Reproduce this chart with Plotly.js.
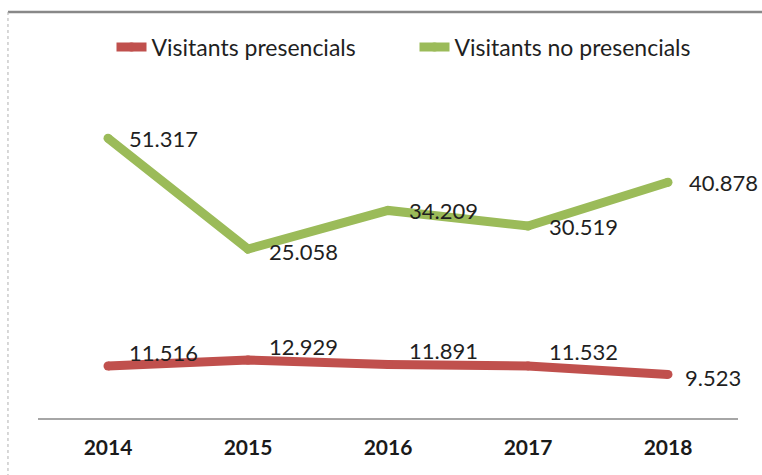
<!DOCTYPE html>
<html>
<head>
<meta charset="utf-8">
<script src="https://cdn.plot.ly/plotly-3.0.1.min.js"></script>
<style>html,body{margin:0;padding:0;background:#fff;}#chart{width:762px;height:475px;}</style>
</head>
<body>
<div id="chart"></div>
<script>
const years = ["2014", "2015", "2016", "2017", "2018"];
const presencials = [11516, 12929, 11891, 11532, 9523];
const noPresencials = [51317, 25058, 34209, 30519, 40878];
const presencialsLabels = ["11.516", "12.929", "11.891", "11.532", "9.523"];
const noPresencialsLabels = ["51.317", "25.058", "34.209", "30.519", "40.878"];
const seriesNames = ["Visitants presencials", "Visitants no presencials"];

const RED = "#C0504D", GREEN = "#9BBB59";
const FONT = "Lato, Roboto, sans-serif";

const traces = [
  {
    x: years, y: presencials, name: seriesNames[0], yaxis: "y2",
    type: "scatter", mode: "lines+markers",
    line: {color: RED, width: 9},
    marker: {color: RED, size: 9},
    hoverinfo: "skip"
  },
  {
    x: years, y: noPresencials, name: seriesNames[1], yaxis: "y",
    type: "scatter", mode: "lines+markers",
    line: {color: GREEN, width: 9},
    marker: {color: GREEN, size: 9},
    hoverinfo: "skip"
  }
];

// category axis: annotations use the category index
const annotations = [];
years.forEach((yr, i) => {
  annotations.push({
    x: i, y: noPresencials[i], xref: "x", yref: "y",
    text: noPresencialsLabels[i], showarrow: false,
    xanchor: "left", yanchor: "middle", xshift: 19, yshift: i === 1 ? -2 : 0,
    font: {family: FONT, size: 22, color: "#1f1f1f"}
  });
  const last = i === years.length - 1;
  annotations.push({
    x: i, y: presencials[i], xref: "x", yref: "y2",
    text: presencialsLabels[i], showarrow: false,
    xanchor: "left", yanchor: "middle", xshift: last ? 15 : 19, yshift: last ? -3 : 14,
    font: {family: FONT, size: 22, color: "#1f1f1f"}
  });
});

const hiddenAxis = {
  showgrid: false, zeroline: false, showline: false, showticklabels: false,
  ticks: "", fixedrange: true
};

const layout = {
  width: 762, height: 475,
  margin: {l: 38, r: 24, t: 60, b: 57},
  paper_bgcolor: "#fff", plot_bgcolor: "#fff",
  showlegend: true,
  legend: {
    orientation: "h", x: 0.105, y: 1.036, xanchor: "left", yanchor: "middle",
    font: {family: FONT, size: 23, color: "#1f1f1f"},
    bgcolor: "rgba(0,0,0,0)", itemwidth: 30,
    entrywidth: 258, entrywidthmode: "pixels"
  },
  xaxis: {
    type: "category", range: [-0.5, 4.5],
    showgrid: false, zeroline: false,
    showline: true, linecolor: "#a6a6a6", linewidth: 2,
    ticks: "", ticklabelstandoff: 10,
    tickfont: {family: FONT, size: 21, color: "#1a1a1a", weight: "bold"},
    fixedrange: true
  },
  yaxis: Object.assign({range: [-14918, 69816]}, hiddenAxis),
  yaxis2: Object.assign({range: [-792, 83942], overlaying: "y", side: "right"}, hiddenAxis),
  shapes: [
    {type: "line", xref: "paper", yref: "paper", x0: -0.0429, x1: 1.1, y0: 1.1341, y1: 1.1341,
     line: {color: "#888888", width: 2.5}},
    {type: "line", xref: "paper", yref: "paper", x0: -0.0429, x1: -0.0429, y0: 1.1341, y1: -0.3,
     line: {color: "#b0b0b0", width: 1, dash: "dot"}}
  ],
  annotations: annotations
};

Plotly.newPlot("chart", traces, layout, {staticPlot: true, displayModeBar: false});
</script>
</body>
</html>
